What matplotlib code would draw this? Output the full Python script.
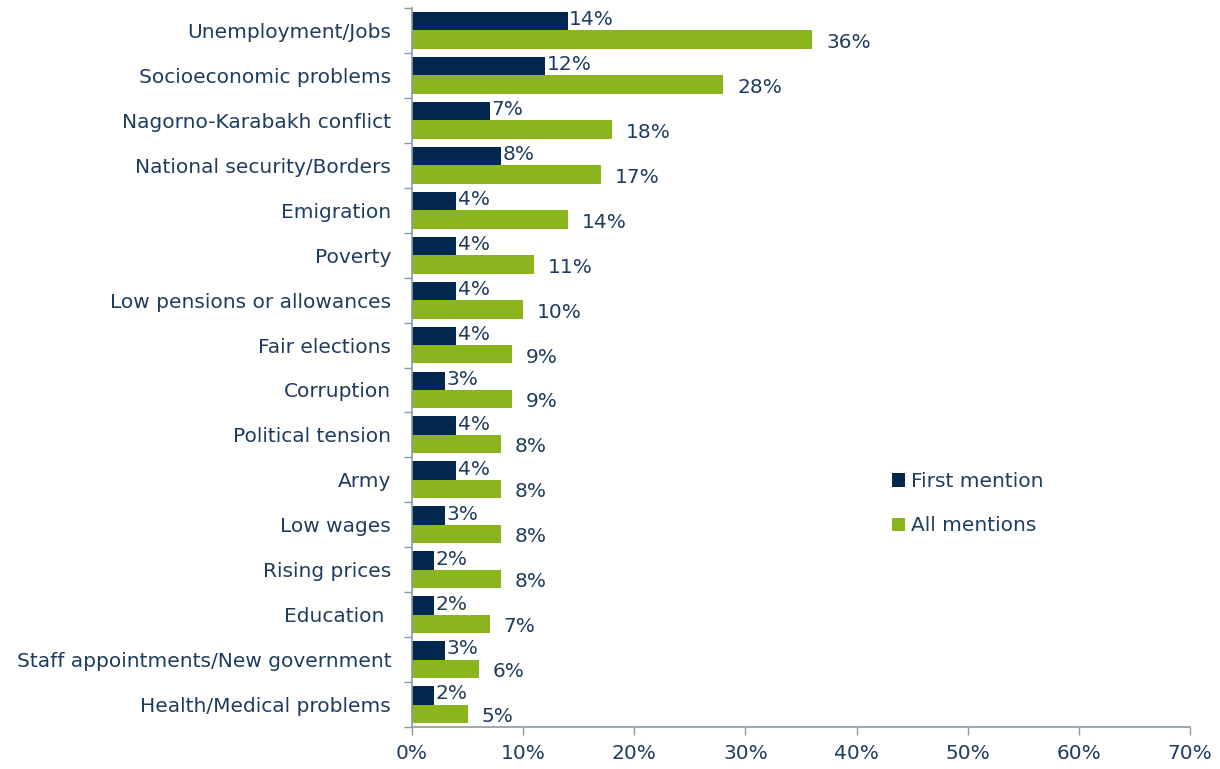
import matplotlib
matplotlib.use("Agg")
import matplotlib.pyplot as plt
import numpy as np
from matplotlib.ticker import FuncFormatter, MultipleLocator

categories = [
    "Unemployment/Jobs", "Socioeconomic problems", "Nagorno-Karabakh conflict",
    "National security/Borders", "Emigration", "Poverty", "Low pensions or allowances",
    "Fair elections", "Corruption", "Political tension", "Army", "Low wages",
    "Rising prices", "Education ", "Staff appointments/New government",
    "Health/Medical problems",
]
first_mention = [14, 12, 7, 8, 4, 4, 4, 4, 3, 4, 4, 3, 2, 2, 3, 2]
all_mentions = [36, 28, 18, 17, 14, 11, 10, 9, 9, 8, 8, 8, 8, 7, 6, 5]
series_names = ["First mention", "All mentions"]

navy = "#03284f"
green = "#8ab51d"
text_col = "#1f3c60"
axis_col = "#8c99a6"
fs = 14.5

plt.rcParams["font.family"] = ["DejaVu Sans"]
fig = plt.figure(figsize=(12.2, 7.69), dpi=100)
ax = fig.add_axes([412 / 1220, 1 - 727 / 769, 778 / 1220, (727 - 8) / 769])

n = len(categories)
y = np.arange(n)
h = 0.41
ax.barh(y - h / 2, first_mention, height=h, color=navy, label=series_names[0])
ax.barh(y + h / 2, all_mentions, height=h, color=green, label=series_names[1])

for yi, v in zip(y, first_mention):
    ax.annotate(f"{v}%", (v, yi - h / 2), xytext=(1, 1), textcoords="offset points",
                va="center", ha="left", fontsize=fs, color=text_col)
for yi, v in zip(y, all_mentions):
    ax.annotate(f"{v}%", (v, yi + h / 2), xytext=(10, -2), textcoords="offset points",
                va="center", ha="left", fontsize=fs, color=text_col)

ax.set_ylim(n - 0.5, -0.5)
ax.set_xlim(0, 70)
ax.xaxis.set_major_locator(MultipleLocator(10))
ax.xaxis.set_major_formatter(FuncFormatter(lambda v, p: f"{int(v)}%"))

ax.set_yticks(y)
ax.set_yticklabels(categories, fontsize=fs, color=text_col)
ax.set_yticks(np.arange(n + 1) - 0.5, minor=True)
ax.tick_params(axis="y", which="major", length=0, pad=15)
ax.tick_params(axis="y", which="minor", length=6, color=axis_col, width=1)
ax.tick_params(axis="x", length=6, color=axis_col, width=1, labelsize=fs,
               labelcolor=text_col, pad=6)

for s in ["top", "right"]:
    ax.spines[s].set_visible(False)
for s in ["left", "bottom"]:
    ax.spines[s].set_color(axis_col)
    ax.spines[s].set_linewidth(1.2)

leg = ax.legend(loc="upper left", bbox_to_anchor=(874 / 1220, 1 - 454 / 769),
                bbox_transform=fig.transFigure, frameon=False, fontsize=fs,
                handlelength=0.65, handleheight=0.65, handletextpad=0.3,
                labelspacing=1.25, labelcolor=text_col)

fig.savefig("out.png", dpi=100, facecolor="white")
